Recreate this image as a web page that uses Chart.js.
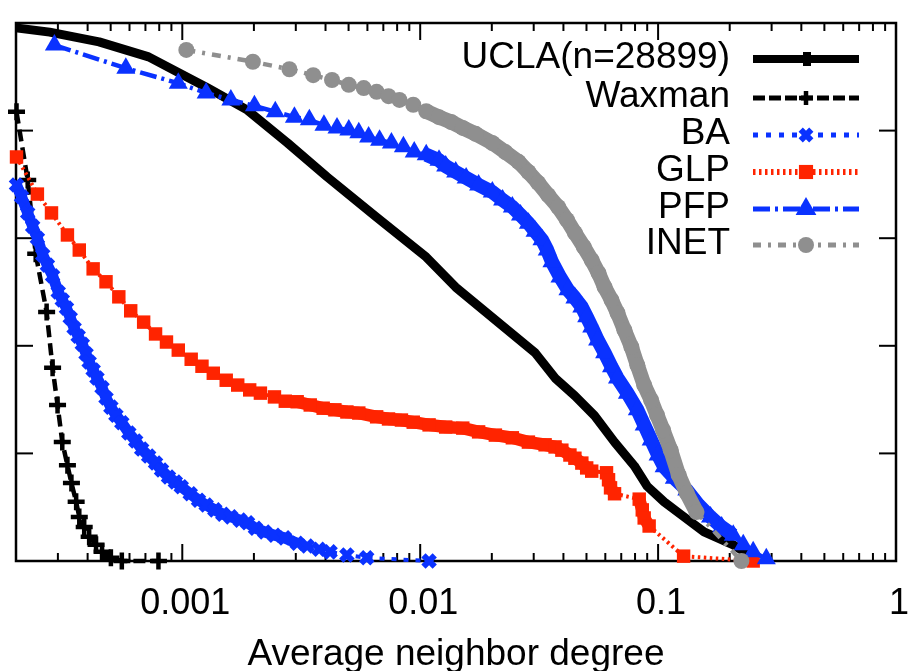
<!DOCTYPE html>
<html><head><meta charset="utf-8">
<script src="https://cdn.jsdelivr.net/npm/chart.js@4.4.1/dist/chart.umd.min.js"></script>
<style>html,body{margin:0;padding:0;background:#fff}#wrap{width:910px;height:671px}</style>
</head><body><div id="wrap"><canvas id="c" width="910" height="671"></canvas></div>
<script>
// ---- data ----
const seriesNames = ['UCLA(n=28899)', 'Waxman', 'BA', 'GLP', 'PFP', 'INET'];

const uclaX = [2.0e-4, 2.77e-4, 4.47e-4, 7.22e-4, 1.28e-3, 1.88e-3, 2.77e-3, 4.06e-3, 6.56e-3, 0.0106, 0.0141, 0.0207, 0.0304, 0.0369, 0.0447, 0.0541, 0.0656, 0.0794, 0.090, 0.106, 0.125, 0.156, 0.207, 0.251];
const uclaY = [0.991, 0.983, 0.965, 0.937, 0.879, 0.838, 0.777, 0.714, 0.639, 0.565, 0.509, 0.448, 0.387, 0.340, 0.307, 0.270, 0.221, 0.177, 0.139, 0.110, 0.086, 0.054, 0.030, 0.007];

const waxmanX = [2.01e-4, 2.24e-4, 2.42e-4, 2.69e-4, 2.85e-4, 2.99e-4, 3.13e-4, 3.29e-4, 3.42e-4, 3.58e-4, 3.69e-4, 3.87e-4, 4.06e-4, 4.34e-4, 4.60e-4, 5.01e-4, 5.57e-4, 7.94e-4];
const waxmanY = [0.835, 0.708, 0.571, 0.463, 0.359, 0.290, 0.221, 0.178, 0.145, 0.110, 0.082, 0.063, 0.045, 0.030, 0.017, 0.006, 0.0, 0.0];

const baX = [2.01e-4, 2.11e-4, 2.24e-4, 2.35e-4, 2.46e-4, 2.59e-4, 2.71e-4, 2.85e-4, 3.01e-4, 3.13e-4, 3.26e-4, 3.38e-4, 3.51e-4, 3.65e-4, 3.80e-4, 3.94e-4, 4.06e-4, 4.22e-4, 4.38e-4, 4.60e-4, 4.78e-4, 5.01e-4, 5.26e-4, 5.57e-4, 5.96e-4, 6.37e-4, 6.75e-4, 7.22e-4, 7.72e-4, 8.18e-4, 8.75e-4, 9.35e-4, 9.90e-4, 1.08e-3, 1.17e-3, 1.26e-3, 1.37e-3, 1.48e-3, 1.60e-3, 1.75e-3, 1.88e-3, 2.03e-3, 2.22e-3, 2.44e-3, 2.69e-3, 3.04e-3, 3.35e-3, 3.76e-3, 4.18e-3, 4.92e-3, 5.96e-3, 0.0109];
const baY = [0.699, 0.677, 0.647, 0.622, 0.600, 0.569, 0.550, 0.530, 0.500, 0.485, 0.470, 0.452, 0.433, 0.418, 0.403, 0.385, 0.370, 0.355, 0.340, 0.322, 0.303, 0.286, 0.271, 0.257, 0.238, 0.223, 0.208, 0.195, 0.182, 0.169, 0.156, 0.147, 0.138, 0.125, 0.113, 0.104, 0.095, 0.087, 0.082, 0.076, 0.071, 0.061, 0.054, 0.048, 0.043, 0.033, 0.028, 0.022, 0.017, 0.011, 0.006, 0.0];

const glpX = [2.01e-4, 2.46e-4, 2.82e-4, 3.29e-4, 3.69e-4, 4.22e-4, 4.78e-4, 5.41e-4, 6.07e-4, 6.88e-4, 7.72e-4, 8.58e-4, 9.62e-4, 1.09e-3, 1.21e-3, 1.35e-3, 1.53e-3, 1.71e-3, 1.92e-3, 2.13e-3, 2.44e-3, 2.71e-3, 3.04e-3, 3.45e-3, 3.91e-3, 4.38e-3, 4.92e-3, 5.52e-3, 6.56e-3, 7.36e-3, 8.34e-3, 9.35e-3, 0.0109, 0.0128, 0.0151, 0.0176, 0.0207, 0.0244, 0.0285, 0.0335, 0.0369, 0.0394, 0.0426, 0.0447, 0.0478, 0.0501, 0.0526, 0.0607, 0.0619, 0.0631, 0.0656, 0.0833, 0.0858, 0.0874, 0.0917, 0.128, 0.251];
const glpY = [0.751, 0.682, 0.647, 0.606, 0.578, 0.543, 0.519, 0.491, 0.465, 0.444, 0.422, 0.407, 0.392, 0.375, 0.362, 0.349, 0.336, 0.327, 0.318, 0.312, 0.305, 0.297, 0.296, 0.290, 0.284, 0.281, 0.277, 0.275, 0.268, 0.264, 0.262, 0.258, 0.253, 0.249, 0.247, 0.240, 0.234, 0.229, 0.221, 0.216, 0.212, 0.206, 0.197, 0.191, 0.182, 0.173, 0.167, 0.164, 0.151, 0.136, 0.125, 0.115, 0.095, 0.080, 0.065, 0.009, 0.0];

const pfpX = [2.90e-4, 5.79e-4, 9.62e-4, 1.26e-3, 1.60e-3, 2.01e-3, 2.46e-3, 2.96e-3, 3.42e-3, 3.94e-3, 4.47e-3, 5.01e-3, 5.52e-3, 6.07e-3, 6.75e-3, 7.57e-3, 8.50e-3, 9.44e-3, 0.0106, 0.0120, 0.0128, 0.0141, 0.0156, 0.0176, 0.0201, 0.0222, 0.0244, 0.0264, 0.0285, 0.0304, 0.0325, 0.0342, 0.0358, 0.0387, 0.0418, 0.0447, 0.0478, 0.0501, 0.0526, 0.0557, 0.0596, 0.0637, 0.0675, 0.0743, 0.0818, 0.0874, 0.0935, 0.100, 0.106, 0.117, 0.132, 0.148, 0.166, 0.185, 0.207, 0.228, 0.251, 0.285];
const pfpY = [0.959, 0.916, 0.888, 0.870, 0.857, 0.846, 0.835, 0.825, 0.820, 0.810, 0.805, 0.801, 0.796, 0.788, 0.782, 0.777, 0.770, 0.760, 0.755, 0.745, 0.734, 0.723, 0.712, 0.699, 0.686, 0.671, 0.658, 0.643, 0.628, 0.613, 0.597, 0.578, 0.556, 0.528, 0.504, 0.489, 0.472, 0.454, 0.435, 0.411, 0.387, 0.361, 0.340, 0.312, 0.281, 0.253, 0.225, 0.197, 0.175, 0.154, 0.132, 0.104, 0.082, 0.063, 0.048, 0.030, 0.017, 0.004];

const inetX = [1.04e-3, 1.98e-3, 2.82e-3, 3.55e-3, 4.26e-3, 5.01e-3, 5.79e-3, 6.56e-3, 7.36e-3, 8.18e-3, 9.35e-3, 0.0106, 0.0120, 0.0135, 0.0151, 0.0171, 0.0201, 0.0228, 0.0259, 0.0285, 0.0313, 0.0345, 0.0380, 0.0414, 0.0447, 0.0487, 0.0526, 0.0562, 0.0596, 0.0637, 0.0675, 0.0722, 0.0772, 0.0818, 0.0874, 0.0935, 0.099, 0.105, 0.113, 0.122, 0.132, 0.145, 0.224];
const inetY = [0.950, 0.928, 0.914, 0.903, 0.894, 0.885, 0.879, 0.872, 0.864, 0.857, 0.848, 0.836, 0.825, 0.816, 0.805, 0.794, 0.777, 0.760, 0.742, 0.723, 0.703, 0.680, 0.658, 0.634, 0.610, 0.584, 0.559, 0.535, 0.509, 0.485, 0.461, 0.429, 0.398, 0.364, 0.327, 0.299, 0.271, 0.243, 0.206, 0.160, 0.126, 0.091, 0.0];

const xTickValues = [0.001, 0.01, 0.1, 1];
const xTickLabels = ['0.001', '0.01', '0.1', '1'];
const yTickValues = [0, 0.2, 0.4, 0.6, 0.8, 1];
const xAxisTitle = 'Average neighbor degree';

// ---- styling ----
const FONT = '"Liberation Sans", Arial, Helvetica, sans-serif';
const BLUE = '#0a32ff', RED = '#ff2400', GRAY = '#8f8f8f';
const pts = (xs, ys) => xs.map((x, i) => ({ x: x, y: ys[i] }));

// where the markers of a series are packed so tightly that they read as a solid band
function bandSegments(ranges, width) {
  const inside = c => ranges.some(r => c.p0.parsed.x >= r[0] && c.p1.parsed.x <= r[1]);
  return {
    borderWidth: c => inside(c) ? width : undefined,
    borderDash: c => inside(c) ? [] : undefined
  };
}

const datasets = [
  { label: seriesNames[0], data: pts(uclaX, uclaY), borderColor: '#000', backgroundColor: '#000',
    borderWidth: 9, pointRadius: 0, order: 6, lg: { dash: [], w: 8, marker: 'ucla' } },
  { label: seriesNames[1], data: pts(waxmanX, waxmanY), borderColor: '#000', backgroundColor: '#000',
    borderWidth: 4.5, borderDash: [12, 6], pointStyle: 'cross', pointRadius: 8.5, pointBorderWidth: 4.5, order: 5,
    lg: { dash: [12, 4], w: 5, marker: 'cross', r: 7, bw: 4.5 } },
  { label: seriesNames[2], data: pts(baX, baY), borderColor: BLUE, backgroundColor: BLUE,
    borderWidth: 4, borderDash: [5, 7], pointStyle: 'crossRot', pointRadius: 8, pointBorderWidth: 6, order: 4,
    segment: bandSegments([[2e-4, 3.1e-3]], 11),
    lg: { dash: [5, 8], w: 5, marker: 'crossRot', r: 7.5, bw: 6 } },
  { label: seriesNames[3], data: pts(glpX, glpY), borderColor: RED, backgroundColor: RED,
    borderWidth: 4, borderDash: [2.5, 3.5], pointStyle: 'rect', pointRadius: 9.5, pointBorderWidth: 0, order: 3,
    segment: bandSegments([[2.9e-3, 0.053], [0.06, 0.066], [0.083, 0.092]], 12.5),
    lg: { dash: [2.5, 3.5], w: 6, marker: 'rect', r: 10, bw: 0 } },
  { label: seriesNames[4], data: pts(pfpX, pfpY), borderColor: BLUE, backgroundColor: BLUE,
    borderWidth: 4.5, borderDash: [17, 5, 3, 5], pointStyle: 'triangle', pointRadius: 11, pointBorderWidth: 0, order: 2,
    segment: bandSegments([[0.0105, 0.21]], 14),
    lg: { dash: [17, 5, 3, 5], w: 5, marker: 'triangle', r: 12, bw: 0 } },
  { label: seriesNames[5], data: pts(inetX, inetY), borderColor: GRAY, backgroundColor: GRAY,
    borderWidth: 4.5, borderDash: [9, 7, 3, 7], pointStyle: 'circle', pointRadius: 8, pointBorderWidth: 0, order: 1,
    segment: bandSegments([[0.0105, 0.146]], 15),
    lg: { dash: [8, 7, 3, 7], w: 5, marker: 'circle', r: 8, bw: 0 } }
];
datasets.forEach(d => {
  d.clip = false; d.tension = 0; d.borderJoinStyle = 'round';
  d.pointBackgroundColor = d.backgroundColor; d.pointBorderColor = d.borderColor; d.pointHoverRadius = d.pointRadius;
});

const framePlugin = {
  id: 'frame',
  beforeDatasetsDraw(chart) {
    const { ctx, chartArea: a, scales } = chart;
    const xs = scales.x, ys = scales.y;
    ctx.save();
    ctx.strokeStyle = '#000';
    ctx.lineWidth = 2.5;
    ctx.strokeRect(a.left, a.top, a.right - a.left, a.bottom - a.top);
    ctx.lineWidth = 2;
    const seg = (x1, y1, x2, y2) => { ctx.beginPath(); ctx.moveTo(x1, y1); ctx.lineTo(x2, y2); ctx.stroke(); };
    xTickValues.forEach(v => {
      const p = xs.getPixelForValue(v);
      seg(p, a.bottom, p, a.bottom - 17); seg(p, a.top, p, a.top + 17);
    });
    for (let e = -4; e < 0; e++) {
      for (let m = 2; m <= 9; m++) {
        const v = m * Math.pow(10, e);
        const p = xs.getPixelForValue(v);
        if (p <= a.left + 2 || p >= a.right - 2) continue;
        seg(p, a.bottom, p, a.bottom - 8); seg(p, a.top, p, a.top + 8);
      }
    }
    yTickValues.forEach(v => {
      const p = ys.getPixelForValue(v);
      seg(a.left, p, a.left + 17, p); seg(a.right, p, a.right - 17, p);
    });
    ctx.restore();
  }
};

const legendRows = [58, 97, 134, 171, 208, 244];
const legendPlugin = {
  id: 'sideLegend',
  afterDraw(chart) {
    const ctx = chart.ctx;
    ctx.save();
    ctx.font = '37px ' + FONT;
    ctx.textAlign = 'right';
    ctx.textBaseline = 'middle';
    chart.data.datasets.forEach((ds, i) => {
      const yy = legendRows[i];
      ctx.fillStyle = '#000';
      ctx.fillText(ds.label, 730, yy);
      ctx.beginPath();
      ctx.setLineDash(ds.lg.dash);
      ctx.lineWidth = ds.lg.w;
      ctx.strokeStyle = ds.borderColor;
      ctx.moveTo(753, yy + 1); ctx.lineTo(859, yy + 1);
      ctx.stroke();
      ctx.setLineDash([]);
      ctx.fillStyle = ds.backgroundColor;
      ctx.strokeStyle = ds.borderColor;
      if (ds.lg.marker === 'ucla') {
        ctx.fillRect(803, yy - 6, 8, 14);
      } else {
        ctx.lineWidth = ds.lg.bw;
        Chart.helpers.drawPoint(ctx, { pointStyle: ds.lg.marker, radius: ds.lg.r, borderWidth: ds.lg.bw, rotation: 0 }, 806, yy + 1);
      }
    });
    ctx.restore();
  }
};

Chart.defaults.font.family = FONT;
Chart.defaults.color = '#000';

new Chart(document.getElementById('c'), {
  type: 'line',
  data: { datasets: datasets },
  options: {
    responsive: false,
    animation: false,
    devicePixelRatio: 1,
    layout: { padding: { top: 23, right: 6, left: 0, bottom: 0 } },
    plugins: { legend: { display: false }, tooltip: { enabled: false } },
    events: [],
    scales: {
      x: {
        type: 'logarithmic', min: 2e-4, max: 1,
        grid: { display: false, drawTicks: false },
        border: { display: false },
        afterBuildTicks: s => { s.ticks = xTickValues.map(v => ({ value: v })); },
        afterFit: s => { s.height = 110; s.paddingLeft = 0; s.paddingRight = 0; },
        ticks: {
          autoSkip: false, maxRotation: 0, padding: 21, labelOffset: 3, color: '#000',
          font: { size: 36 },
          callback: (v, i) => xTickLabels[i]
        },
        title: { display: true, text: xAxisTitle, color: '#000', font: { size: 37 }, padding: { top: 0, bottom: -6 } }
      },
      y: {
        type: 'linear', min: 0, max: 1,
        grid: { display: false, drawTicks: false },
        border: { display: false },
        ticks: { display: false },
        afterBuildTicks: s => { s.ticks = yTickValues.map(v => ({ value: v })); },
        afterFit: s => { s.width = 16; s.paddingTop = 0; s.paddingBottom = 0; }
      }
    }
  },
  plugins: [framePlugin, legendPlugin]
});
</script></body></html>
